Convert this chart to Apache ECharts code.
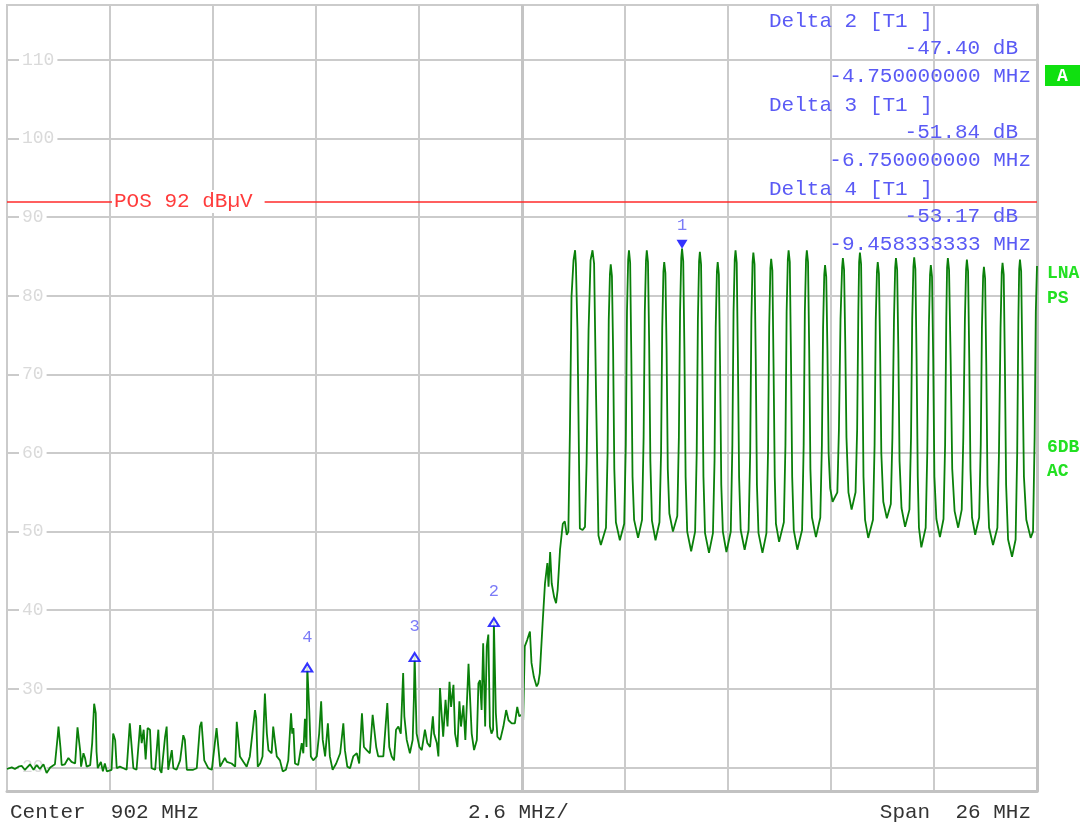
<!DOCTYPE html>
<html><head><meta charset="utf-8">
<script src="https://cdn.jsdelivr.net/npm/echarts@6/dist/echarts.min.js"></script>
<style>html,body{margin:0;padding:0;background:#fff}#c{width:1084px;height:826px}</style>
</head><body><div id="c"></div>
<script>
// ---- axis settings (dBµV, MHz) ----
const refLevel = 117, bottomLevel = 17;
const startMHz = 889, stopMHz = 915, divMHz = 2.6;
const yTickLabels = [20, 30, 40, 50, 60, 70, 80, 90, 100, 110];
const displayLineLevel = 92;
const displayLineText = 'POS 92 dBµV';

// ---- trace: [MHz, dBµV] ----
const traceLow = [
[889.00,19.8],[889.12,20.0],[889.20,19.8],[889.29,20.1],[889.37,20.2],[889.45,19.7],[889.58,20.4],[889.67,19.7],[889.75,20.3],[889.83,19.8],
[889.92,20.4],[890.00,19.3],[890.09,20.0],[890.21,20.4],[890.28,24.0],[890.30,25.2],[890.32,25.4],[890.35,22.5],[890.38,20.3],[890.46,20.4],
[890.55,21.2],[890.63,20.7],[890.72,20.5],[890.78,25.1],[890.82,25.2],[890.85,22.0],[890.87,20.1],[890.93,21.8],[890.97,21.2],[891.01,20.1],
[891.10,20.3],[891.15,23.1],[891.20,28.1],[891.24,26.9],[891.26,22.0],[891.29,19.9],[891.37,20.7],[891.42,19.5],[891.47,20.5],[891.52,19.5],
[891.64,19.7],[891.68,24.3],[891.73,23.5],[891.77,19.9],[891.85,20.1],[891.94,19.9],[892.02,19.7],[892.10,25.6],[892.15,25.8],[892.19,19.9],
[892.27,19.7],[892.36,25.4],[892.40,23.1],[892.45,24.8],[892.50,21.0],[892.55,25.0],[892.61,24.8],[892.65,19.9],[892.74,19.7],[892.82,24.8],
[892.86,19.7],[892.90,19.3],[892.99,23.9],[893.03,25.2],[893.07,19.7],[893.16,22.2],[893.20,19.9],[893.28,19.7],[893.37,20.9],[893.45,24.1],
[893.49,23.5],[893.54,19.7],[893.62,19.7],[893.70,19.7],[893.79,19.9],[893.87,25.2],[893.91,25.8],[893.98,20.9],[894.08,19.9],[894.17,19.7],
[894.29,25.0],[894.34,25.2],[894.38,20.1],[894.50,21.2],[894.55,20.7],[894.59,20.7],[894.67,20.5],[894.76,20.1],[894.80,25.8],[894.84,25.6],
[894.88,21.4],[894.97,20.7],[895.05,20.1],[895.13,21.4],[895.18,21.6],[895.26,27.3],[895.29,26.3],[895.33,20.1],[895.39,20.5],[895.45,21.4],
[895.51,29.4],[895.56,24.3],[895.60,22.2],[895.68,21.8],[895.72,25.2],[895.77,23.1],[895.81,21.4],[895.89,20.9],[895.96,19.5],[896.04,19.7],
[896.10,20.9],[896.17,26.9],[896.20,24.3],[896.23,25.0],[896.27,20.5],[896.35,20.3],[896.44,23.1],[896.48,21.8],[896.52,26.2],[896.56,22.6],
[896.58,32.8],[896.63,27.3],[896.67,21.4],[896.73,20.9],[896.82,21.4],[896.88,24.3],[896.93,28.4],[896.97,23.5],[897.03,21.4],[897.10,25.6],
[897.15,21.4],[897.22,19.7],[897.31,20.5],[897.41,21.8],[897.49,25.6],[897.53,22.2],[897.59,20.1],[897.66,19.9],[897.74,21.4],[897.83,21.8],
[897.89,20.5],[897.96,26.9],[898.01,22.6],[898.08,22.2],[898.16,21.8],[898.23,26.7],[898.26,26.7],[898.32,22.6],[898.37,21.4],[898.50,21.4],
[898.60,28.2],[898.65,22.6],[898.71,21.4],[898.77,20.9],[898.82,24.8],[898.88,25.2],[898.94,24.3],[899.00,32.0],[899.03,26.5],[899.09,23.5],
[899.17,21.8],[899.24,23.5],[899.27,28.6],[899.29,34.2],[899.34,24.3],[899.41,22.6],[899.47,22.2],[899.51,23.5],[899.55,24.8],[899.61,23.1],
[899.68,22.6],[899.75,26.5],[899.78,24.3],[899.85,23.1],[899.89,21.4],[899.93,30.1],[899.97,26.9],[900.01,23.9],[900.07,28.6],[900.12,25.2],
[900.17,30.9],[900.21,27.7],[900.27,30.5],[900.31,24.3],[900.37,22.6],[900.42,28.4],[900.46,25.2],[900.52,27.9],[900.57,23.5],[900.65,33.2],
[900.69,33.0],[900.73,24.3],[900.79,22.2],[900.86,23.5],[900.90,30.7],[900.94,31.1],[900.98,27.3],[901.02,35.8],[901.07,25.2],[901.11,35.4],
[901.15,36.9],[901.19,25.2],[901.23,24.3],[901.27,24.8],[901.29,38.6],[901.34,26.9],[901.38,23.9],[901.45,23.5],[901.53,25.2],[901.60,27.3],
[901.66,26.0],[901.74,25.6],[901.82,25.6],[901.88,27.7],[901.93,26.5],[901.99,26.7]
];
const traceRise = [
[902.03,26.0],[902.07,35.4],[902.13,36.2],[902.20,37.3],[902.24,33.3],[902.30,31.5],[902.37,30.3],[902.41,30.7],[902.45,32.0],[902.52,38.3],
[902.58,43.4],[902.64,46.0],[902.67,43.0],[902.71,47.4],[902.75,43.4],[902.81,41.7],[902.86,40.9],[902.90,42.6],[902.96,47.7],[903.03,51.0],
[903.08,51.3],[903.13,49.6],[903.17,50.0],[903.21,62.9],[903.25,79.9],[903.30,84.5],[903.34,85.8],[903.36,84.1],[903.40,75.6],[903.43,62.9],
[903.46,50.4],[903.53,50.2],[903.59,50.6],[903.63,58.7],[903.68,75.6],[903.73,84.5],[903.78,85.8],[903.82,84.1],[903.87,67.2],[903.93,49.5],
[903.99,48.3]
];
const traceComb = [
[904.12,50.5],[904.16,60],[904.19,77],[904.22,82.8],[904.24,84.0],[904.27,82.5],[904.30,73],[904.33,58],[904.37,51.2],[904.47,48.9],
[904.58,51.0],[904.62,61],[904.65,78],[904.68,84.6],[904.70,85.8],[904.73,84.2],[904.76,72],[904.79,57],[904.83,51.5],[904.93,49.2],
[905.03,51.5],[905.07,62],[905.10,78],[905.13,84.5],[905.15,85.8],[905.18,84.3],[905.21,74],[905.24,59],[905.28,51.4],[905.37,48.9],
[905.47,51.2],[905.51,60],[905.54,76],[905.57,83.1],[905.59,84.3],[905.62,82.9],[905.65,73],[905.68,58],[905.72,52.3],[905.81,50.0],
[905.92,52.0],[905.96,62],[905.99,78],[906.02,84.8],[906.04,86.0],[906.07,84.4],[906.10,73],[906.13,57],[906.17,50.0],[906.27,47.5],
[906.37,50.0],[906.41,60],[906.44,77],[906.47,84.4],[906.49,85.6],[906.52,84.0],[906.55,72],[906.58,57],[906.62,49.8],[906.72,47.3],
[906.82,49.8],[906.86,59],[906.89,76],[906.92,83.1],[906.94,84.3],[906.97,82.7],[907.00,71],[907.03,56],[907.07,50.0],[907.16,47.4],
[907.27,50.0],[907.31,61],[907.34,78],[907.37,84.6],[907.39,85.8],[907.42,84.2],[907.45,72],[907.48,57],[907.52,50.2],[907.62,47.7],
[907.72,50.2],[907.76,60],[907.79,77],[907.82,84.3],[907.84,85.5],[907.87,84.0],[907.90,72],[907.93,56],[907.97,49.8],[908.07,47.3],
[908.17,49.8],[908.21,60],[908.24,76],[908.27,83.5],[908.29,84.7],[908.32,83.2],[908.35,71],[908.38,57],[908.41,51.0],[908.49,48.7],
[908.61,51.2],[908.65,61],[908.68,78],[908.71,84.6],[908.73,85.8],[908.76,84.3],[908.79,72],[908.82,57],[908.86,50.2],[908.95,47.7],
[909.07,50.2],[909.11,61],[909.14,78],[909.17,84.6],[909.19,85.8],[909.22,84.3],[909.25,73],[909.28,58],[909.32,51.8],[909.42,49.3],
[909.53,51.8],[909.57,61],[909.60,76],[909.63,82.7],[909.65,83.9],[909.68,82.4],[909.71,73],[909.74,60],[909.78,55.5],[909.84,53.8],
[909.96,55.0],[910.00,63],[910.04,77],[910.08,83.6],[910.10,84.8],[910.13,83.3],[910.16,74],[910.19,62],[910.24,55.0],[910.32,52.8],
[910.42,55.0],[910.46,63],[910.49,78],[910.51,84.3],[910.53,85.5],[910.56,84.0],[910.59,72],[910.62,57],[910.66,51.5],[910.74,49.2],
[910.86,51.5],[910.90,61],[910.93,77],[910.96,83.1],[910.98,84.3],[911.01,82.8],[911.04,73],[911.07,60],[911.12,53.8],[911.21,51.7],
[911.31,53.5],[911.35,62],[911.39,77],[911.42,83.6],[911.44,84.8],[911.47,83.3],[911.50,73],[911.53,59],[911.58,53.0],[911.67,50.6],
[911.78,52.8],[911.82,62],[911.85,77],[911.88,83.7],[911.90,84.9],[911.93,83.4],[911.96,72],[911.99,57],[912.02,50.5],[912.08,48.0],
[912.19,50.5],[912.23,60],[912.27,76],[912.30,82.7],[912.32,83.9],[912.35,82.4],[912.38,72],[912.41,57],[912.46,51.6],[912.55,49.3],
[912.64,51.6],[912.68,61],[912.71,77],[912.73,83.6],[912.75,84.8],[912.78,83.3],[912.82,72],[912.86,58],[912.92,52.6],[913.01,50.5],
[913.10,52.8],[913.14,62],[913.18,77],[913.21,83.4],[913.23,84.6],[913.26,83.1],[913.29,72],[913.32,58],[913.36,51.8],[913.44,49.6],
[913.54,51.8],[913.58,61],[913.61,76],[913.64,82.5],[913.66,83.7],[913.69,82.2],[913.72,71],[913.75,56],[913.79,50.5],[913.89,48.3],
[914.00,50.5],[914.04,60],[914.08,76],[914.11,83.0],[914.13,84.2],[914.16,82.7],[914.19,71],[914.22,56],[914.27,49.0],[914.37,46.8],
[914.46,49.0],[914.50,60],[914.53,77],[914.55,83.4],[914.57,84.6],[914.60,83.1],[914.63,72],[914.67,57],[914.73,51.5],[914.84,49.2],
[914.90,50.0],[914.94,62],[914.97,78],[915.00,83.8]
];

// ---- markers ----
const markerNames = ['1', '2', '3', '4'];
const markerFreq = [906.04, 901.29, 899.29, 896.58];
const markerLevel = [86.0, 38.6, 34.16, 32.83];

// ---- readout texts ----
const deltaTitles = ['Delta 2 [T1 ]', 'Delta 3 [T1 ]', 'Delta 4 [T1 ]'];
const deltaLevels = ['-47.40 dB', '-51.84 dB', '-53.17 dB'];
const deltaFreqs = ['-4.750000000 MHz', '-6.750000000 MHz', '-9.458333333 MHz'];
const sideLabels = ['LNA', 'PS', '6DB', 'AC'];
const footLeft = 'Center  902 MHz', footMid = '2.6 MHz/', footRight = 'Span  26 MHz';

const MONO = '"Liberation Mono","Courier New",monospace';
const trace = traceLow.concat(traceRise, traceComb);

const chart = echarts.init(document.getElementById('c'), null, {renderer: 'canvas'});

const graphics = [];
deltaTitles.forEach((t, i) => {
  const y0 = 21 + i * 84;
  graphics.push({type: 'text', x: 769, y: y0, z: 10, style: {text: t, font: '21px ' + MONO, fill: '#5a5af5', textAlign: 'left', textVerticalAlign: 'middle'}});
  graphics.push({type: 'text', x: 1018, y: y0 + 27, z: 10, style: {text: deltaLevels[i], font: '21px ' + MONO, fill: '#5a5af5', textAlign: 'right', textVerticalAlign: 'middle'}});
  graphics.push({type: 'text', x: 1031, y: y0 + 55, z: 10, style: {text: deltaFreqs[i], font: '21px ' + MONO, fill: '#5a5af5', textAlign: 'right', textVerticalAlign: 'middle'}});
});
graphics.push({type: 'rect', shape: {x: 1045, y: 65, width: 35, height: 21}, style: {fill: '#10e010'}, z: 10});
graphics.push({type: 'text', x: 1062.5, y: 76, z: 11, style: {text: 'A', font: 'bold 18px ' + MONO, fill: '#ffffff', textAlign: 'center', textVerticalAlign: 'middle'}});
[273, 298, 447, 471].forEach((yy, i) => {
  graphics.push({type: 'text', x: 1047, y: yy, z: 10, style: {text: sideLabels[i], font: 'bold 18px ' + MONO, fill: '#22e022', textAlign: 'left', textVerticalAlign: 'middle'}});
});
graphics.push({type: 'text', x: 10, y: 812, style: {text: footLeft, font: '21px ' + MONO, fill: '#333', textAlign: 'left', textVerticalAlign: 'middle'}});
graphics.push({type: 'text', x: 468, y: 812, style: {text: footMid, font: '21px ' + MONO, fill: '#333', textAlign: 'left', textVerticalAlign: 'middle'}});
graphics.push({type: 'text', x: 1031, y: 812, style: {text: footRight, font: '21px ' + MONO, fill: '#333', textAlign: 'right', textVerticalAlign: 'middle'}});

const gridColor = '#cbcbcb';
const yBase = {type: 'value', min: bottomLevel, max: refLevel, splitNumber: 10};

chart.setOption({
  animation: false,
  backgroundColor: '#ffffff',
  grid: {left: 7, right: 47, top: 5, bottom: 35, show: true, borderColor: gridColor, borderWidth: 2, backgroundColor: 'transparent'},
  xAxis: {
    type: 'value', min: startMHz, max: stopMHz, interval: divMHz,
    axisLine: {show: true, onZero: false, lineStyle: {color: '#c2c2c2', width: 3}},
    axisTick: {show: false}, axisLabel: {show: false},
    splitLine: {show: true, lineStyle: {color: gridColor, width: 2}}
  },
  yAxis: [
    Object.assign({}, yBase, {
      position: 'left', axisLine: {show: false}, axisTick: {show: false}, axisLabel: {show: false},
      splitLine: {show: true, lineStyle: {color: gridColor, width: 2}}
    }),
    Object.assign({}, yBase, {
      position: 'left', z: 1, axisLine: {show: false}, axisTick: {show: false}, splitLine: {show: false},
      axisLabel: {
        show: true, inside: true, margin: 12, showMinLabel: false, showMaxLabel: false,
        formatter: v => (yTickLabels.indexOf(Math.round(v)) >= 0 && Math.abs(v - Math.round(v)) < 1e-6) ? String(Math.round(v)) : '',
        color: '#dadada', fontFamily: MONO, fontSize: 18, backgroundColor: '#ffffff', padding: [0, 3, 0, 3]
      }
    }),
    Object.assign({}, yBase, {
      position: 'right', axisLine: {show: true, lineStyle: {color: '#c2c2c2', width: 3}},
      axisTick: {show: false}, axisLabel: {show: false}, splitLine: {show: false}
    })
  ],
  series: [
    {
      type: 'line', name: 'center', data: [], z: 1, silent: true,
      markLine: {silent: true, symbol: 'none', animation: false,
        lineStyle: {color: '#c4c4c4', width: 3, type: 'solid'}, label: {show: false},
        data: [{xAxis: (startMHz + stopMHz) / 2}]}
    },
    {
      type: 'line', name: 'T1', data: trace, z: 2, showSymbol: false, symbol: 'none',
      lineStyle: {color: '#0a800a', width: 1.8}, silent: true,
      markLine: {
        silent: true, symbol: 'none', animation: false,
        lineStyle: {color: '#ff2a2a', width: 1.5, type: 'solid'},
        label: {show: true, position: 'insideStart', distance: [105, 0], formatter: displayLineText,
          color: '#ff3b3b', fontFamily: MONO, fontSize: 21, backgroundColor: '#ffffff', padding: [1, 12, 1, 2]},
        data: [{yAxis: displayLineLevel}]
      }
    },
    {
      type: 'scatter', name: 'markers', z: 4, silent: true,
      data: markerFreq.map((f, i) => i === 0 ? {
        value: [f, markerLevel[i]], symbol: 'triangle', symbolRotate: 180, symbolSize: [11, 9], symbolOffset: [0, -4.5],
        itemStyle: {color: '#0000ff'},
        label: {show: true, formatter: markerNames[i], position: 'top', distance: 6, color: '#5a5af5', fontFamily: MONO, fontSize: 17}
      } : {
        value: [f, markerLevel[i]], symbol: 'triangle', symbolSize: [10, 8], symbolOffset: [0, 1],
        itemStyle: {color: '#ffffff', borderColor: '#0000ff', borderWidth: 2},
        label: {show: true, formatter: markerNames[i], position: 'top', distance: 17, color: '#5a5af5', fontFamily: MONO, fontSize: 17}
      })
    }
  ],
  graphic: graphics
});
</script></body></html>
